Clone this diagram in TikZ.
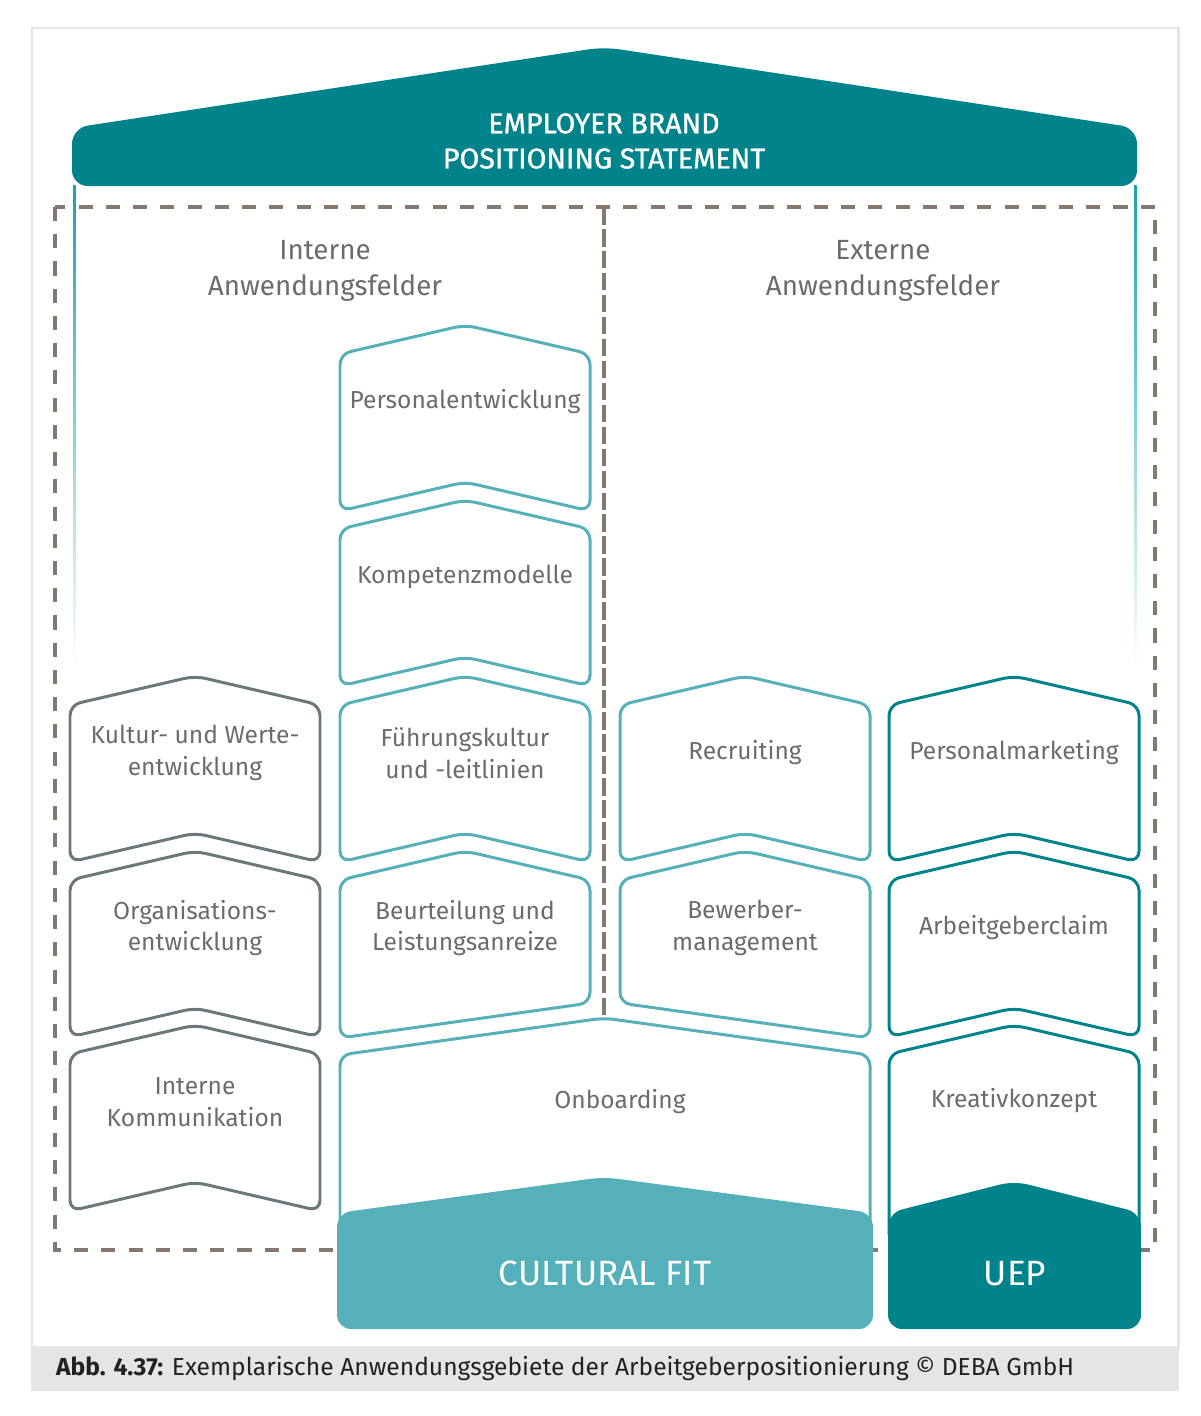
\documentclass[tikz,border=0pt]{standalone}
\usepackage{fontspec}
\setmainfont{Fira Sans}
\newfontfamily\rooffont[FakeBold=1.2]{Fira Sans}
\usetikzlibrary{positioning}
\definecolor{ebteal}{HTML}{00838A}
\definecolor{eblight}{HTML}{56B0B9}
\definecolor{ebgray}{HTML}{6B7879}
\definecolor{ebdash}{HTML}{857870}
\definecolor{ebtext}{HTML}{6C6C6C}
\definecolor{ebframe}{HTML}{E5E5E5}
\definecolor{ebside}{HTML}{1AA3AE}
\definecolor{ebcap}{HTML}{222222}
% one upward chevron: centre x, apex y, colour
\newcommand{\chevron}[3]{%
  \draw[#3, line width=1.7pt, rounded corners=6, line join=round]
    (#1,#2) -- ({#1+125},{#2+29}) -- ({#1+125},{#2+186}) -- (#1,{#2+157})
    -- ({#1-125},{#2+186}) -- ({#1-125},{#2+29}) -- cycle;}
\begin{document}
\begin{tikzpicture}[x=0.02cm, y=-0.02cm,
  boxtext/.style={align=center, text=ebtext, font=\fontsize{14}{18}\selectfont},
  headtext/.style={align=center, text=ebtext, font=\fontsize{15.8}{20.5}\selectfont},
  rooftext/.style={align=center, text=white, font=\rooffont\fontsize{16.3}{20}\selectfont},
  blocktext/.style={text=white, font=\fontsize{20}{24}\selectfont},
  outline/.style={line width=1.7pt, rounded corners=6, line join=round}]
\useasboundingbox (0,0) rectangle (1200,1416);
\fill[white] (0,0) rectangle (1200,1416);
% frame and caption band
\draw[ebframe, line width=1.7pt] (32,28) rectangle (1178,1347);
\fill[ebframe] (31,1347) rectangle (1179,1391);
\node[anchor=west, text=ebcap, font=\fontsize{14}{16}\selectfont] (caption) at (50,1369)
  {\textbf{Abb. 4.37:} Exemplarische Anwendungsgebiete der Arbeitgeberpositionierung © DEBA GmbH};
% dashed area
\draw[ebdash, line width=2pt, dash pattern=on 8pt off 7.5pt] (55,207) rectangle (1155,1250);
\draw[ebdash, line width=1.8pt, dash pattern=on 10pt off 2.5pt] (604,207) -- (604,1016);
% roof
\shade[top color=ebside, bottom color=white] (73,185) rectangle (75.5,668);
\shade[top color=ebside, bottom color=white] (1134,185) rectangle (1136.5,668);
\fill[ebteal, rounded corners=9] (72,186) -- (72,128) -- (604,47) -- (1137,128) -- (1137,186) -- cycle;
\node[rooftext] (roof) at (604,141) {EMPLOYER BRAND\\POSITIONING STATEMENT};
\node[headtext] (intern) at (325,271) {Interne\\Anwendungsfelder};
\node[headtext] (extern) at (883,271) {Externe\\Anwendungsfelder};
% chevrons
\foreach \cx/\ay/\col/\nm/\txt in {
  465/325/eblight/pentw/Personalentwicklung,
  465/500/eblight/kompm/Kompetenzmodelle,
  195/676/ebgray/kultur/{Kultur- und Werte-\\entwicklung},
  465/676/eblight/fuehr/{Führungskultur\\und -leitlinien},
  745/676/eblight/recr/Recruiting,
  1014/676/ebteal/pmark/Personalmarketing,
  195/851/ebgray/orga/{Organisations-\\entwicklung},
  1014/851/ebteal/claim/Arbeitgeberclaim,
  195/1025/ebgray/intkom/{Interne\\Kommunikation}}
{
  \chevron{\cx}{\ay}{\col}
  \node[boxtext] (\nm) at (\cx,\ay+77) {\txt};
}
% the two shapes above Onboarding have slanted bottoms
\draw[eblight, outline] (465,851) -- (590,880) -- (590,1003) -- (340,1038) -- (340,880) -- cycle;
\node[boxtext] (beurt) at (465,928) {Beurteilung und\\Leistungsanreize};
\draw[eblight, outline] (745,851) -- (870,880) -- (870,1038) -- (620,1003) -- (620,880) -- cycle;
\node[boxtext] (bewerb) at (745,928) {Bewerber-\\management};
% open chevrons resting on the foundations
\draw[eblight, outline] (340,1235) -- (340,1055) -- (604,1018) -- (870,1055) -- (870,1235);
\draw[ebteal, outline] (889,1235) -- (889,1054) -- (1014,1025) -- (1139,1054) -- (1139,1235);
\node[boxtext] (onb) at (620,1102) {Onboarding};
\node[boxtext] (kreativ) at (1014,1101) {Kreativkonzept};
% foundations
\fill[eblight, rounded corners=8] (337,1213) -- (604,1177) -- (873,1213) -- (873,1329) -- (337,1329) -- cycle;
\fill[ebteal, rounded corners=8] (888,1213) -- (1014,1181) -- (1141,1213) -- (1141,1329) -- (888,1329) -- cycle;
\node[blocktext] (cfit) at (605,1273) {CULTURAL FIT};
\node[blocktext] (uep) at (1015,1274) {UEP};
\end{tikzpicture}
\end{document}
